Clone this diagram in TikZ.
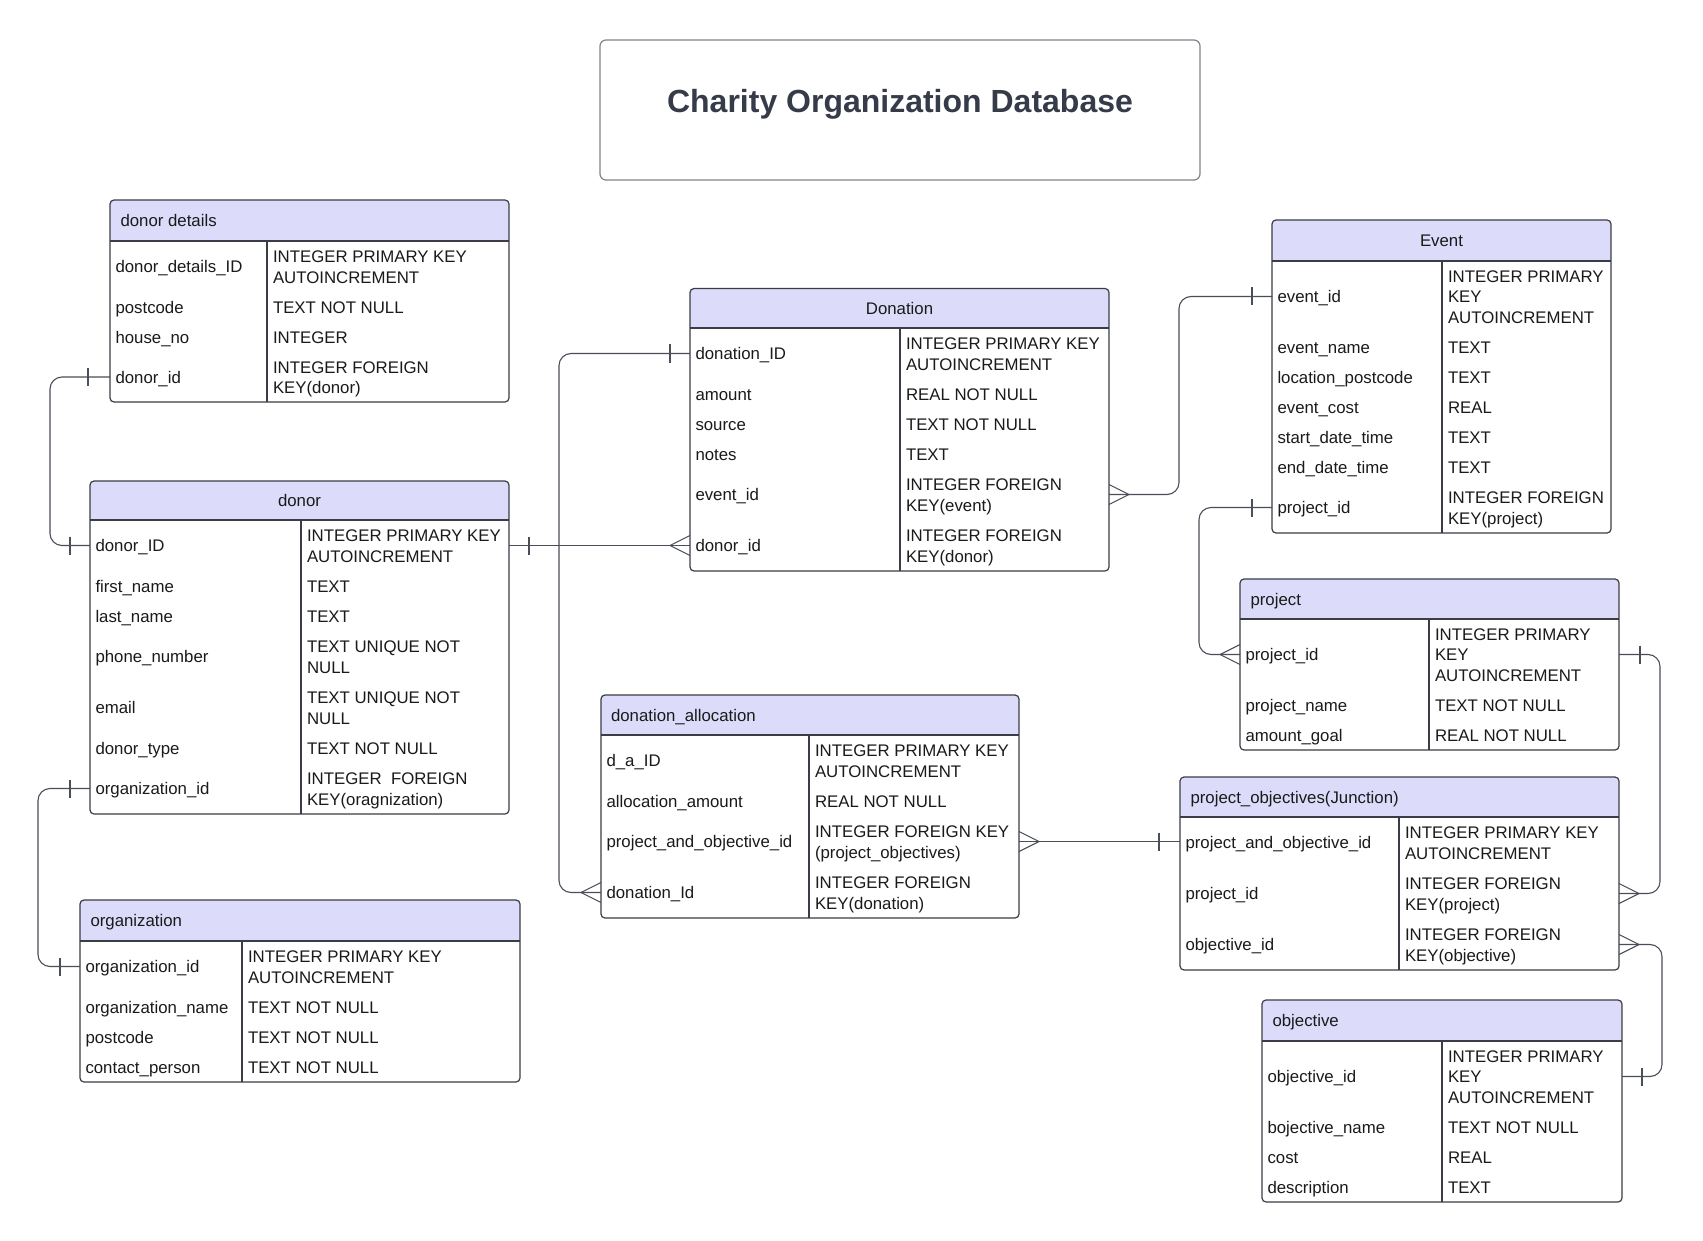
\documentclass[tikz,border=0pt]{standalone}
\usepackage{fontspec}
\setmainfont{Liberation Sans}
\definecolor{hdrcol}{HTML}{DCDCFA}
\definecolor{bordcol}{HTML}{3A3D46}
\definecolor{conncol}{HTML}{4A4E58}
\definecolor{titlecol}{HTML}{353B48}
\definecolor{titlebord}{HTML}{80848C}
\definecolor{txtcol}{HTML}{1A1A1A}
\tikzset{
  tframe/.style={draw=bordcol, line width=1.2pt, rounded corners=4pt, inner sep=0pt, outer sep=0pt},
  tline/.style={draw=bordcol, line width=1.2pt},
  rowbox/.style={inner sep=0pt, outer sep=0pt, draw=none},
  ftxt/.style={inner sep=0pt, outer sep=0pt, anchor=west, align=left, text=txtcol, font=\fontsize{16.8}{20.5}\selectfont},
  htxt/.style={inner sep=0pt, outer sep=0pt, text=txtcol, font=\fontsize{16.8}{20.5}\selectfont},
  conn/.style={draw=conncol, line width=1.1pt},
  elbow/.style={conn, rounded corners=12pt},
}
\newcommand\brk{\\\strut}
\newcommand\dy{2.2}
% name L T R HB B D
\newcommand\etable[7]{%
  \begin{scope}
    \clip[rounded corners=4pt] (#2,#3) rectangle (#4,#6);
    \fill[hdrcol] (#2,#3) rectangle (#4,#5);
  \end{scope}
  \node[tframe, minimum width={#4-#2}, minimum height={#6-#3}] (#1) at ({(#2+#4)/2},{(#3+#6)/2}) {};
  \draw[tline] (#2,#5) -- (#4,#5) (#7,#5) -- (#7,#6);
}
% name L R D top bottom field type
\newcommand\erow[8]{%
  \node[rowbox, minimum width={#3-#2}, minimum height={#6-#5}] (#1) at ({(#2+#3)/2},{(#5+#6)/2}) {};
  \node[ftxt] (#1f) at ({#2+5.5},{(#5+#6)/2+\dy}) {\strut #7};
  \node[ftxt] (#1t) at ({#4+6},{(#5+#6)/2+\dy}) {\strut #8};
}
\newcommand\tick[2]{\draw[conn] ([xshift=#2]#1) ++(0,-9) -- ++(0,18);}
\newcommand\crowL[1]{\draw[conn] ([yshift=10pt]#1) -- ([xshift=-20pt]#1) -- ([yshift=-10pt]#1);}
\newcommand\crowR[1]{\draw[conn] ([yshift=10pt]#1) -- ([xshift=20pt]#1) -- ([yshift=-10pt]#1);}
\begin{document}
\begin{tikzpicture}[x=1pt,y=-1pt]
\useasboundingbox[fill=white] (0,0) rectangle (1703,1241);

% title
\node[draw=titlebord, line width=1.2pt, rounded corners=6pt, minimum width=600pt, minimum height=140pt, inner sep=0pt] (tbox) at (900,110) {};
\node[font=\fontsize{32}{36}\selectfont\bfseries, text=titlecol, inner sep=0pt] (title) at (900,104.5) {Charity Organization Database};

% donor details
\etable{DD}{110}{200}{509}{241}{402}{267}
\node[htxt, anchor=west] (DD-h) at (120.5,{220.5+\dy}) {\strut donor details};
\erow{DD-1}{110}{509}{267}{241}{292}{donor\_details\_ID}{INTEGER PRIMARY KEY\brk AUTOINCREMENT}
\erow{DD-2}{110}{509}{267}{292}{322}{postcode}{TEXT NOT NULL}
\erow{DD-3}{110}{509}{267}{322}{352}{house\_no}{INTEGER}
\erow{DD-4}{110}{509}{267}{352}{402}{donor\_id}{INTEGER FOREIGN\brk KEY(donor)}

% donor
\etable{DN}{90}{481}{509}{520}{814}{301}
\node[htxt] (DN-h) at (299.5,{500.5+\dy}) {\strut donor};
\erow{DN-1}{90}{509}{301}{520}{571}{donor\_ID}{INTEGER PRIMARY KEY\brk AUTOINCREMENT}
\erow{DN-2}{90}{509}{301}{571}{601}{first\_name}{TEXT}
\erow{DN-3}{90}{509}{301}{601}{631}{last\_name}{TEXT}
\erow{DN-4}{90}{509}{301}{631}{682}{phone\_number}{TEXT UNIQUE NOT\brk NULL}
\erow{DN-5}{90}{509}{301}{682}{733}{email}{TEXT UNIQUE NOT\brk NULL}
\erow{DN-6}{90}{509}{301}{733}{763}{donor\_type}{TEXT NOT NULL}
\erow{DN-7}{90}{509}{301}{763}{814}{organization\_id}{INTEGER\ \ FOREIGN\brk KEY(oragnization)}

% organization
\etable{ORG}{80}{900}{520}{941}{1082}{242}
\node[htxt, anchor=west] (ORG-h) at (90.5,{920.5+\dy}) {\strut organization};
\erow{ORG-1}{80}{520}{242}{941}{992}{organization\_id}{INTEGER PRIMARY KEY\brk AUTOINCREMENT}
\erow{ORG-2}{80}{520}{242}{992}{1022}{organization\_name}{TEXT NOT NULL}
\erow{ORG-3}{80}{520}{242}{1022}{1052}{postcode}{TEXT NOT NULL}
\erow{ORG-4}{80}{520}{242}{1052}{1082}{contact\_person}{TEXT NOT NULL}

% Donation
\etable{DON}{690}{288.5}{1109}{328}{571}{900}
\node[htxt] (DON-h) at (899.5,{308.25+\dy}) {\strut Donation};
\erow{DON-1}{690}{1109}{900}{328}{379}{donation\_ID}{INTEGER PRIMARY KEY\brk AUTOINCREMENT}
\erow{DON-2}{690}{1109}{900}{379}{409}{amount}{REAL NOT NULL}
\erow{DON-3}{690}{1109}{900}{409}{439}{source}{TEXT NOT NULL}
\erow{DON-4}{690}{1109}{900}{439}{469}{notes}{TEXT}
\erow{DON-5}{690}{1109}{900}{469}{520}{event\_id}{INTEGER FOREIGN\brk KEY(event)}
\erow{DON-6}{690}{1109}{900}{520}{571}{donor\_id}{INTEGER FOREIGN\brk KEY(donor)}

% Event
\etable{EV}{1272}{220}{1611}{261}{533}{1442}
\node[htxt] (EV-h) at (1441.5,{240.5+\dy}) {\strut Event};
\erow{EV-1}{1272}{1611}{1442}{261}{332}{event\_id}{INTEGER PRIMARY\brk KEY\brk AUTOINCREMENT}
\erow{EV-2}{1272}{1611}{1442}{332}{362}{event\_name}{TEXT}
\erow{EV-3}{1272}{1611}{1442}{362}{392}{location\_postcode}{TEXT}
\erow{EV-4}{1272}{1611}{1442}{392}{422}{event\_cost}{REAL}
\erow{EV-5}{1272}{1611}{1442}{422}{452}{start\_date\_time}{TEXT}
\erow{EV-6}{1272}{1611}{1442}{452}{482}{end\_date\_time}{TEXT}
\erow{EV-7}{1272}{1611}{1442}{482}{533}{project\_id}{INTEGER FOREIGN\brk KEY(project)}

% project
\etable{PR}{1240}{579}{1619}{619}{750}{1429}
\node[htxt, anchor=west] (PR-h) at (1250.5,{599+\dy}) {\strut project};
\erow{PR-1}{1240}{1619}{1429}{619}{690}{project\_id}{INTEGER PRIMARY\brk KEY\brk AUTOINCREMENT}
\erow{PR-2}{1240}{1619}{1429}{690}{720}{project\_name}{TEXT NOT NULL}
\erow{PR-3}{1240}{1619}{1429}{720}{750}{amount\_goal}{REAL NOT NULL}

% project_objectives
\etable{PO}{1180}{777}{1619}{817}{970}{1399}
\node[htxt, anchor=west] (PO-h) at (1190.5,{797+\dy}) {\strut project\_objectives(Junction)};
\erow{PO-1}{1180}{1619}{1399}{817}{868}{project\_and\_objective\_id}{INTEGER PRIMARY KEY\brk AUTOINCREMENT}
\erow{PO-2}{1180}{1619}{1399}{868}{919}{project\_id}{INTEGER FOREIGN\brk KEY(project)}
\erow{PO-3}{1180}{1619}{1399}{919}{970}{objective\_id}{INTEGER FOREIGN\brk KEY(objective)}

% objective
\etable{OB}{1262}{1000}{1622}{1041}{1202}{1442}
\node[htxt, anchor=west] (OB-h) at (1272.5,{1020.5+\dy}) {\strut objective};
\erow{OB-1}{1262}{1622}{1442}{1041}{1112}{objective\_id}{INTEGER PRIMARY\brk KEY\brk AUTOINCREMENT}
\erow{OB-2}{1262}{1622}{1442}{1112}{1142}{bojective\_name}{TEXT NOT NULL}
\erow{OB-3}{1262}{1622}{1442}{1142}{1172}{cost}{REAL}
\erow{OB-4}{1262}{1622}{1442}{1172}{1202}{description}{TEXT}

% donation_allocation
\etable{DA}{601}{695}{1019}{735}{918}{809}
\node[htxt, anchor=west] (DA-h) at (611,{715+\dy}) {\strut donation\_allocation};
\erow{DA-1}{601}{1019}{809}{735}{786}{d\_a\_ID}{INTEGER PRIMARY KEY\brk AUTOINCREMENT}
\erow{DA-2}{601}{1019}{809}{786}{816}{allocation\_amount}{REAL NOT NULL}
\erow{DA-3}{601}{1019}{809}{816}{867}{project\_and\_objective\_id}{INTEGER FOREIGN KEY\brk (project\_objectives)}
\erow{DA-4}{601}{1019}{809}{867}{918}{donation\_Id}{INTEGER FOREIGN\brk KEY(donation)}

% connectors
\draw[elbow] (DD-4.west) -- ++(-60,0) |- (DN-1.west);
\tick{DD-4.west}{-22pt}
\tick{DN-1.west}{-20pt}

\draw[elbow] (DN-7.west) -- ++(-52,0) |- (ORG-1.west);
\tick{DN-7.west}{-20pt}
\tick{ORG-1.west}{-20pt}

\draw[conn] (DN-1.east) -- (DON-6.west);
\tick{DN-1.east}{20pt}
\crowL{DON-6.west}

\draw[elbow] (DON-1.west) -- ++(-131,0) |- (DA-4.west);
\tick{DON-1.west}{-20pt}
\crowL{DA-4.west}

\draw[elbow] (DON-5.east) -- ++(70,0) |- (EV-1.west);
\crowR{DON-5.east}
\tick{EV-1.west}{-20pt}

\draw[elbow] (EV-7.west) -- ++(-73,0) |- (PR-1.west);
\tick{EV-7.west}{-20pt}
\crowL{PR-1.west}

\draw[elbow] (PR-1.east) -- ++(41,0) |- (PO-2.east);
\tick{PR-1.east}{21pt}
\crowR{PO-2.east}

\draw[elbow] (PO-3.east) -- ++(43,0) |- (OB-1.east);
\crowR{PO-3.east}
\tick{OB-1.east}{20pt}

\draw[conn] (DA-3.east) -- (DA-3.east -| PO-1.west);
\crowR{DA-3.east}
\tick{DA-3.east -| PO-1.west}{-21pt}
\end{tikzpicture}
\end{document}
